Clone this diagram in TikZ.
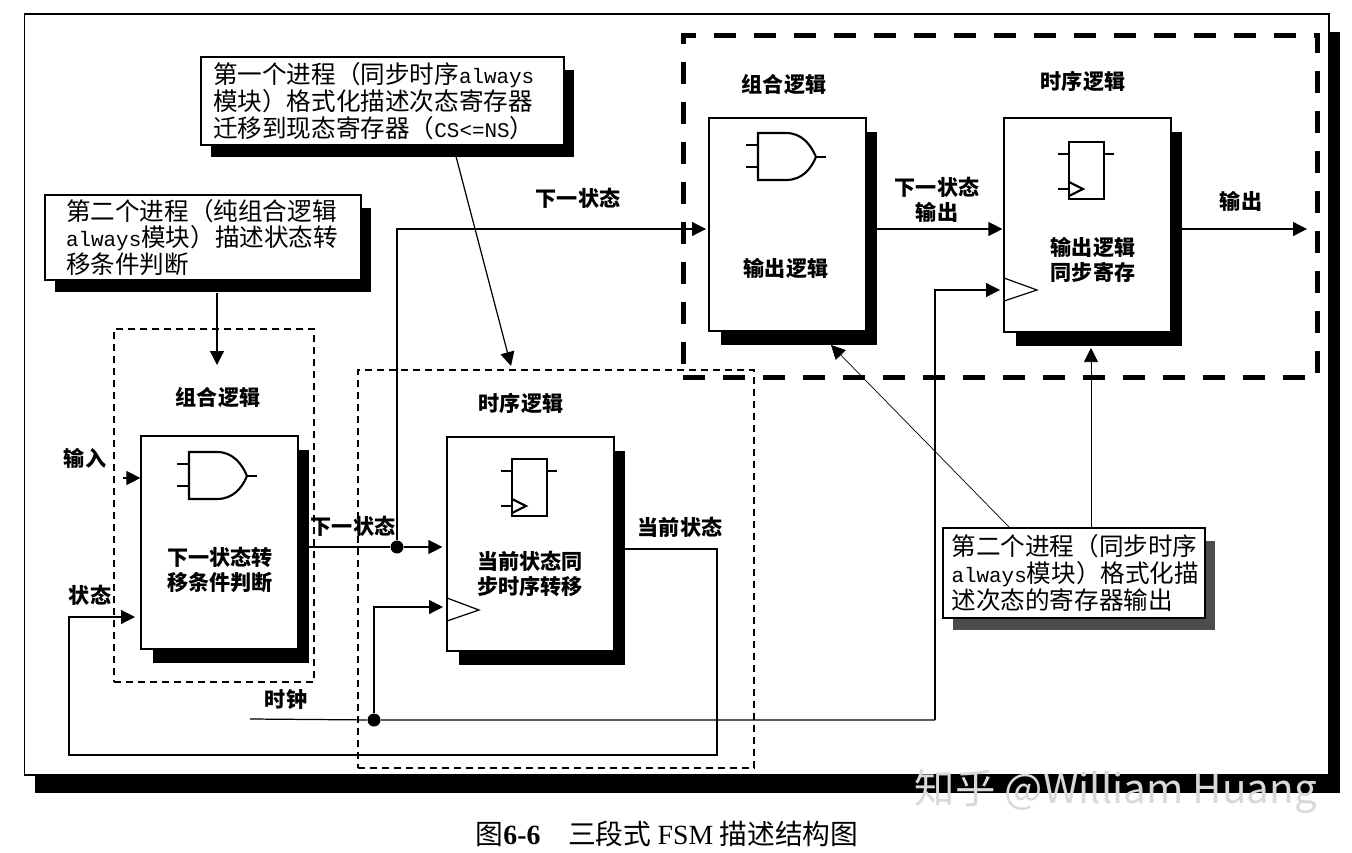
\documentclass[tikz,border=0pt]{standalone}
\usepackage{fontspec}
\usepackage{xcolor}
\usepackage{tikz}
\usetikzlibrary{arrows.meta,shadows}
\setmainfont{Noto Sans CJK SC}
\newfontfamily\latinfont[Scale=.85]{Liberation Mono}
\newfontfamily\capfont{Liberation Serif}

\begin{document}
\begin{tikzpicture}[
  x=0.02cm,y=-0.02cm,
  blockshadow/.style={drop shadow={shadow xshift=.23cm,shadow yshift=-.28cm,opacity=1,fill=black}},
  calloutshadow/.style={drop shadow={shadow xshift=.2cm,shadow yshift=-.25cm,opacity=1,fill=#1}},
  frame/.style={draw,line width=.7pt,fill=white,inner sep=0pt},
  block/.style={frame,blockshadow},
  callout/.style={frame,align=left,font=\fontsize{14}{15.3}\selectfont},
  grp/.style={draw,line width=.7pt,inner sep=0pt,dash pattern=on 1.4mm off 1mm},
  grpthick/.style={draw,line width=.1cm,inner sep=0pt,dash pattern=on .44cm off .36cm},
  lb/.style={font=\fontsize{12}{14.5}\selectfont\bfseries,align=center,inner sep=0pt},
  j/.style={circle,fill=black,inner sep=0pt,minimum size=.26cm},
  c/.style={line width=.7pt},
  a/.style={c,-{Triangle[length=.28cm,width=.28cm]}},
  an/.style={line width=.4pt,-{Triangle[length=.28cm,width=.28cm]}},
  gate/.style={line width=1.2pt},
  andgate/.pic={
    \draw[gate] (0,0) -- (28,0) .. controls (44,0) and (53,12) .. (58,24)
      .. controls (53,36) and (44,47) .. (28,47) -- (0,47) -- cycle;
    \draw[gate] (-12,12) -- (0,12) (-12,34) -- (0,34) (58,24) -- (68,24);
  },
  ffgate/.pic={
    \draw[gate] (0,0) rectangle (35,57);
    \draw[gate] (-11,12) -- (0,12) (-11,47) -- (0,47) (35,12) -- (45,12);
    \draw[gate] (0,40) -- (14,47) -- (0,54);
  }
]
\useasboundingbox (0,0) rectangle (1352,852);
\node[frame,minimum width=26.1cm,minimum height=15.22cm,
  drop shadow={shadow xshift=.22cm,shadow yshift=-.36cm,opacity=1,fill=black}] (outer) at (676.5,394.5) {};

\node[grp,minimum width=4cm,minimum height=7.06cm] (grpa) at (214,505.5) {};
\node[grp,minimum width=7.92cm,minimum height=7.96cm] (grpb) at (556,569) {};
\node[grpthick,minimum width=12.7cm,minimum height=6.86cm] (grpc) at (1000.5,206.5) {};

\node[block,minimum width=3.14cm,minimum height=4.26cm] (nextlogic) at (219.5,542.5) {};
\node[block,minimum width=3.34cm,minimum height=4.28cm] (curreg) at (530.5,544) {};
\node[block,minimum width=3.14cm,minimum height=4.26cm] (outlogic) at (787.5,224.5) {};
\node[block,minimum width=3.34cm,minimum height=4.28cm] (outreg) at (1087.5,225) {};

\node[callout,calloutshadow=black,minimum width=7.26cm,minimum height=1.76cm,text width=6.78cm,inner xsep=.24cm] (proca) at (382.5,101)
  {第一个进程（同步时序{\latinfont always}\\模块）格式化描述次态寄存器\\迁移到现态寄存器（{\latinfont CS<=NS}）};
\node[callout,calloutshadow=black,minimum width=6.32cm,minimum height=1.7cm,text width=5.48cm,inner xsep=.42cm] (procb) at (203,237.5)
  {第二个进程（纯组合逻辑\\{\latinfont always}模块）描述状态转\\移条件判断};
\node[callout,calloutshadow=black!70,minimum width=5.24cm,minimum height=1.8cm,text width=4.9cm,inner xsep=.17cm] (procc) at (1074,573)
  {第二个进程（同步时序\\{\latinfont always}模块）格式化描\\述次态的寄存器输出};

\pic at (189,452) {andgate};
\pic at (758,133) {andgate};
\pic at (512,459) {ffgate};
\pic at (1069,142) {ffgate};
\draw[c] (447,598) -- (479,610) -- (447,621);
\draw[c] (1004,278) -- (1037,290) -- (1004,301);

\node[lb] (l1) at (218,398) {组合逻辑};
\node[lb] (l2) at (521,403) {时序逻辑};
\node[lb] (l3) at (784,85) {组合逻辑};
\node[lb] (l4) at (1083,81) {时序逻辑};
\node[lb] (l5) at (578,198) {下一状态};
\node[lb] (l6) at (937,200) {下一状态\\输出};
\node[lb] (l7) at (1241,201) {输出};
\node[lb] (l8) at (220,570) {下一状态转\\移条件判断};
\node[lb] (l9) at (530,574) {当前状态同\\步时序转移};
\node[lb] (l10) at (786,268) {输出逻辑};
\node[lb] (l11) at (1093,260) {输出逻辑\\同步寄存};
\node[lb] (l12) at (85,458) {输入};
\node[lb] (l13) at (90,595) {状态};
\node[lb] (l14) at (353,526) {下一状态};
\node[lb] (l15) at (680,527) {当前状态};
\node[lb] (l16) at (286,700) {时钟};

\node[j] (dotn) at (397,547) {};
\node[j] (dotc) at (374,720) {};
\coordinate (inl) at (123,478);
\coordinate (stin) at (135,617);
\coordinate (stl) at (69,755);
\coordinate (curr) at (717,549);
\coordinate (clkl) at (250,719);
\coordinate (clkr) at (935,720);
\coordinate (cin) at (706,229);
\coordinate (dout) at (1307,229);
\coordinate (bin) at (443,607);
\coordinate (din) at (1000,290);
\coordinate (procat) at (453,145);
\coordinate (procbt) at (217,293);
\coordinate (procct) at (1009,527);
\coordinate (procdt) at (1091,527);
\coordinate (grpbt) at (511,366);
\coordinate (grpat) at (217,365);
\coordinate (oltip) at (831,345);
\coordinate (ortip) at (1091,348);

\draw[a] (inl) -- (inl -| nextlogic.west);
\draw[c] (nextlogic.east |- dotn) -- (dotn);
\draw[a,shorten >=.08cm] (dotn) -- (dotn -| curreg.west);
\draw[a] (dotn) |- (cin);
\draw[a,shorten >=.02cm] (outlogic.east |- cin) -- (outreg.west |- cin);
\draw[a] (outreg.east |- cin) -- (dout);
\draw[a] (curreg.east |- curr) -- (curr) -- (curr |- stl) -- (stl) |- (stin);
\draw[c] (clkl) -- (dotc) -- (clkr);
\draw[a] (dotc) |- (bin);
\draw[a] (clkr) |- (din);
\draw[a] (procat) -- (grpbt);
\draw[a] (procbt) -- (grpat);
\draw[an] (procct) -- (oltip);
\draw[an] (procdt) -- (ortip);

\node[font=\fontsize{15.8}{17}\selectfont,inner sep=0pt] (caption) at (667,834)
  {图{\capfont\bfseries 6-6}\quad 三段式 {\capfont FSM} 描述结构图};
\node[font=\fontsize{23}{25}\selectfont,text=black!15,inner sep=0pt] (mark) at (1116,792) {知乎 @William Huang};
\end{tikzpicture}
\end{document}
